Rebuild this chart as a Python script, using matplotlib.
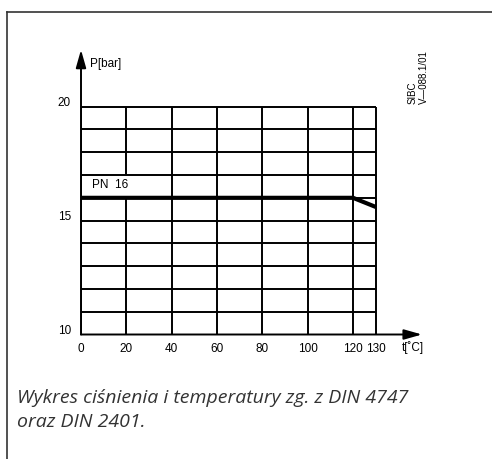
import matplotlib.pyplot as plt

# dane
temp_ticks = [0, 20, 40, 60, 80, 100, 120, 130]
p_ticks = [10, 15, 20]
p_grid = [10, 11, 12, 13, 14, 15, 16, 17, 18, 19, 20]
pn16_t = [0, 120, 130]
pn16_p = [16, 16, 15.6]

W, H = 492, 459
fig = plt.figure(figsize=(W / 100, H / 100), dpi=100)
plt.rcParams['font.family'] = ['Liberation Sans', 'DejaVu Sans']

# ramka (tylko gora i lewa strona)
fig.add_artist(plt.Line2D([7 / W, 1], [1 - 12 / H, 1 - 12 / H], color='#333333', lw=1.2))
fig.add_artist(plt.Line2D([7 / W, 7 / W], [0, 1 - 12 / H], color='#333333', lw=1.2))

# osie: 0..155 st.C, 10..23 bar
x0, x1 = 81, 81 + 155 * 2.267
y0, y1 = 334.5, 334.5 - 13 * 22.78
ax = fig.add_axes([x0 / W, 1 - y0 / H, (x1 - x0) / W, (y0 - y1) / H])
ax.set_xlim(0, 155)
ax.set_ylim(10, 23)
ax.axis('off')

# siatka
ax.vlines(temp_ticks, p_grid[0], p_grid[-1], color='black', lw=1.4, zorder=1)
ax.hlines(p_grid, temp_ticks[0], temp_ticks[-1], color='black', lw=1.4, zorder=3)

# linia PN 16
ax.plot(pn16_t, pn16_p, color='black', lw=3.0, solid_capstyle='butt', zorder=4)
ax.text(4.8, 16.55, 'PN  16', fontsize=8.5, va='center', ha='left', zorder=2,
        bbox=dict(facecolor='white', edgecolor='none', pad=3.5))

# strzalki osi
arr = dict(arrowstyle='-|>,head_length=0.6,head_width=0.17', lw=1.4, color='black',
           mutation_scale=18, shrinkA=0, shrinkB=0)
ax.annotate('', xy=(150.4, 10), xytext=(0, 10), arrowprops=arr, zorder=5)
ax.annotate('', xy=(0, 22.5), xytext=(0, 10), arrowprops=arr, zorder=5)

# opisy osi
ax.text(4.0, 21.87, 'P[bar]', fontsize=8.5, va='center', ha='left')
ax.text(141.6, 9.41, 't[˚C]', fontsize=8.5, va='center', ha='left')

for t in temp_ticks:
    ax.text(t, 9.37, str(t), fontsize=8.5, va='center', ha='center')
for p in p_ticks:
    ax.text(-4.4, p + 0.17, str(p), fontsize=8.5, va='center', ha='right')

# oznaczenie rysunku
fig.text(418 / W, 1 - 104 / H, 'SIBC\nV—088.1/01', rotation=90, fontsize=7,
         ha='left', va='center', multialignment='left', rotation_mode='anchor')

# podpis
fig.text(17 / W, 1 - 389 / H, 'Wykres ciśnienia i temperatury zg. z DIN 4747\noraz DIN 2401.',
         fontsize=14, style='italic', color='#333333', family=['Open Sans', 'DejaVu Sans'],
         ha='left', va='top', linespacing=1.4)

fig.savefig('out.png', dpi=100)
